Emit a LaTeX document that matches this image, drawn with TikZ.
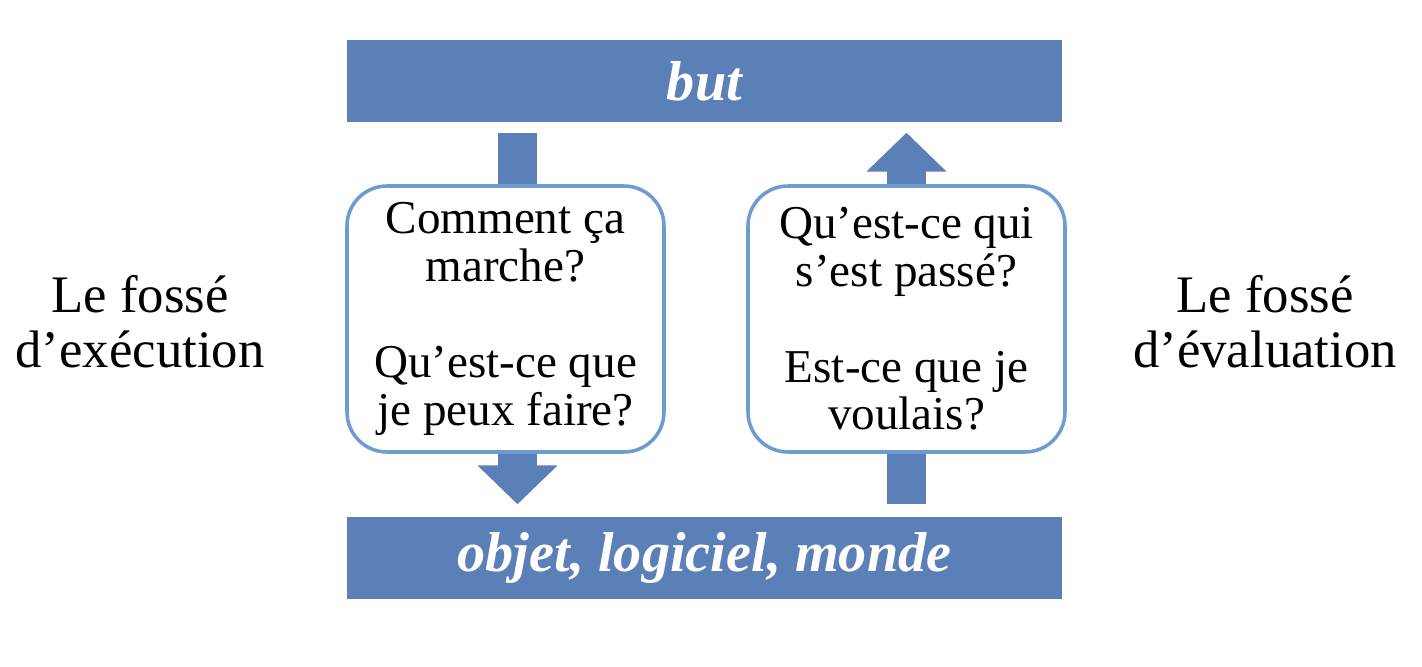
\documentclass[tikz,border=0pt]{standalone}
\usepackage{fontspec}
\setmainfont{Liberation Serif}
\usetikzlibrary{arrows.meta,backgrounds}
\definecolor{barblue}{HTML}{5B80B8}
\definecolor{lineblue}{HTML}{6E9BD2}
\tikzset{
	bar/.style={fill=barblue, minimum width=7.15cm, minimum height=0.82cm, text=white, font=\fontsize{16}{19}\selectfont\bfseries\itshape},
	question/.style={draw=lineblue, line width=1pt, fill=white, rounded corners=0.4cm, minimum width=3.17cm, minimum height=2.66cm, align=center, font=\fontsize{13.4}{13.6}\selectfont},
	gap/.style={align=center, font=\fontsize{15}{15.6}\selectfont},
	bigarrow/.style={barblue, line width=0.39cm, -{Triangle[length=0.39cm, width=0.78cm]}}
}
\begin{document}
\begin{tikzpicture}
	\useasboundingbox (0, 0) rectangle (14.22, 6.66);
	\node[bar] (but) at (7.045, 5.85) {but};
	\node[bar] (objet) at (7.045, 1.08) {objet, logiciel, monde};
	\node[question] (execbox) at (5.055, 3.47) {Comment ça\\marche?\\[13.6pt]Qu’est-ce que\\je peux faire?};
	\node[question] (evalbox) at (9.065, 3.47) {Qu’est-ce qui\\s’est passé?\\[13.6pt]Est-ce que je\\voulais?};
	\node[gap] (exec) at (1.40, 3.44) {Le fossé\\d’exécution};
	\node[gap] (eval) at (12.65, 3.44) {Le fossé\\d’évaluation};
	\coordinate (execx) at ([xshift=1.2mm]execbox.center);
	\begin{pgfonlayer}{background}
		\draw[bigarrow] ([yshift=-1mm]but.south -| execx) -- ([yshift=1.2mm]objet.north -| execx);
		\draw[bigarrow] ([yshift=1.2mm]objet.north -| evalbox) -- ([yshift=-1mm]but.south -| evalbox);
	\end{pgfonlayer}
\end{tikzpicture}
\end{document}
